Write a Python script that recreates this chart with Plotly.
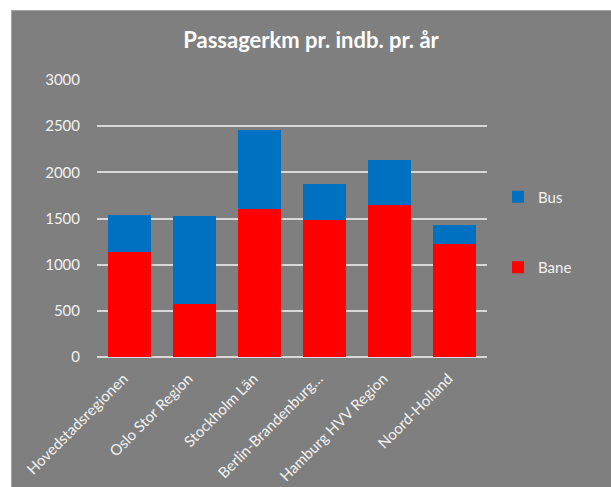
import plotly.graph_objects as go

categories = ["Hovedstadsregionen", "Oslo Stor Region", "Stockholm Län",
              "Berlin-Brandenburg…", "Hamburg HVV Region", "Noord-Holland"]
bane = [1133, 575, 1605, 1480, 1650, 1225]
bus = [400, 947, 850, 395, 480, 200]
y_ticks = [0, 500, 1000, 1500, 2000, 2500, 3000]
title_text = "Passagerkm pr. indb. pr. år"

GRAY = "#7F7F7F"
TXT = "#F2F2F2"
FONT = "Lato, 'Open Sans', sans-serif"

fig = go.Figure()
fig.add_trace(go.Bar(x=categories, y=bane, name="Bane", marker_color="#FF0000",
                     marker_line_width=0, legendgroup="bane", legendrank=2))
fig.add_trace(go.Bar(x=categories, y=bus, name="Bus", marker_color="#0070C0",
                     marker_line_width=0, legendgroup="bus", legendrank=1))

L, R, T, B = 97, 124, 80, 130
W, H = 611, 487
pw = W - L - R
ph = H - T - B

def px2fx(px):
    return (px - L) / pw

def py2fy(py):
    return (H - B - py) / ph

shapes = [
    dict(type="rect", xref="paper", yref="paper", x0=px2fx(-5), x1=px2fx(11),
         y0=py2fy(H + 5), y1=py2fy(-5), fillcolor="white", line_width=0, layer="below"),
    dict(type="rect", xref="paper", yref="paper", x0=px2fx(-5), x1=px2fx(W + 5),
         y0=py2fy(10), y1=py2fy(-5), fillcolor="white", line_width=0, layer="below"),
    dict(type="line", xref="paper", yref="paper", x0=px2fx(11), x1=px2fx(W + 5),
         y0=py2fy(10.5), y1=py2fy(10.5), line=dict(color="#A6A6A6", width=1), layer="below"),
    dict(type="line", xref="paper", yref="paper", x0=px2fx(11.5), x1=px2fx(11.5),
         y0=py2fy(10), y1=py2fy(H + 5), line=dict(color="#A6A6A6", width=1), layer="below"),
]

fig.update_layout(
    width=W, height=H,
    margin=dict(l=L, r=R, t=T, b=B, pad=0, autoexpand=False),
    paper_bgcolor=GRAY, plot_bgcolor=GRAY,
    barmode="stack", bargap=0.35,
    font=dict(family=FONT, color=TXT, size=14),
    title=dict(text="<b>" + title_text + "</b>", x=311 / W,
               xanchor="center", y=1 - 40 / H, yanchor="middle",
               font=dict(family=FONT, size=22, color="#FFFFFF")),
    xaxis=dict(tickangle=-45, showgrid=False, showline=False, ticks="",
               ticklabelstandoff=9, ticklabelshift=-6, automargin=False,
               tickfont=dict(size=15, color=TXT), zeroline=False),
    yaxis=dict(range=[0, 3000], tickvals=y_ticks, showgrid=True, gridcolor="#D9D9D9",
               gridwidth=1.5, zeroline=True, zerolinecolor="#D9D9D9", zerolinewidth=1.5,
               automargin=False,
               ticks="", ticklabelstandoff=16, tickfont=dict(size=15, color=TXT)),
    legend=dict(x=px2fx(498), xanchor="left", y=py2fy(232), yanchor="middle",
                traceorder="grouped", tracegroupgap=48,
                font=dict(size=15, color=TXT), bgcolor="rgba(0,0,0,0)",
                itemwidth=30),
    shapes=shapes,
)

fig.write_html("out.html", config={"displayModeBar": False},
               post_script="document.body.style.margin='0';document.body.style.overflow='hidden';")
